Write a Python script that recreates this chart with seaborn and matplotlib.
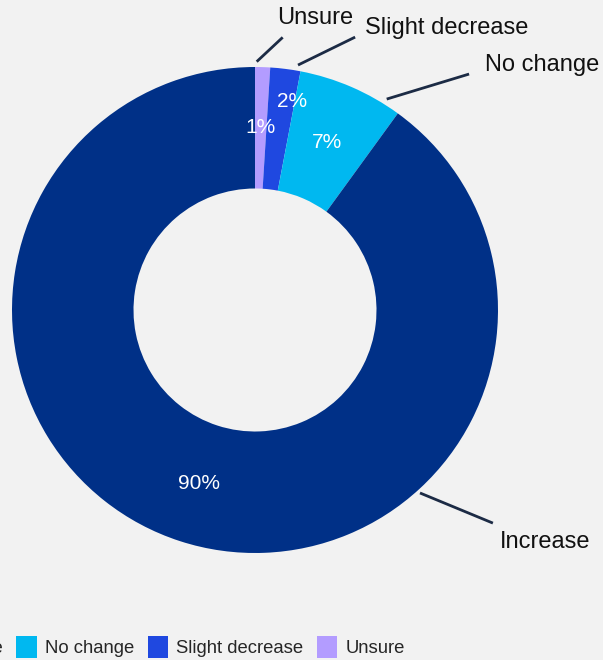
import matplotlib
matplotlib.use("Agg")
import matplotlib.pyplot as plt
import seaborn as sns
import numpy as np
from matplotlib.patches import Patch

# Data (pie order: clockwise from top)
categories = ["Unsure", "Slight decrease", "No change", "Increase"]
values = [1, 2, 7, 90]
colors = ["#b39cff", "#1f48e0", "#00b8f0", "#003087"]
legend_order = ["Increase", "No change", "Slight decrease", "Unsure"]

sns.set_theme(style="white")
plt.rcParams['font.family'] = ['Liberation Sans', 'DejaVu Sans']

BG = "#f2f2f2"
fig = plt.figure(figsize=(6.03, 6.60), dpi=100, facecolor=BG)
W, H = 603, 660
cx, cy, R = 255, 310, 243
ax = fig.add_axes([(cx - R) / W, (H - cy - R) / H, 2 * R / W, 2 * R / H])
ax.set_facecolor(BG)

wedges, texts, autotexts = ax.pie(
    values, colors=colors, startangle=90, counterclock=False,
    radius=1.0, wedgeprops=dict(width=0.5, linewidth=0),
    autopct=lambda p: f"{p:.0f}%", pctdistance=0.75,
    textprops=dict(color="white", fontsize=15))
ax.set_xlim(-1, 1)
ax.set_ylim(-1, 1)
ax.set_aspect("equal")
ax.axis("off")

# Adjust crowded percentage label (Slight decrease)
autotexts[1].set_position((0.152, 0.856))

# Outer labels with leader lines (layout positions in data units)
leader = {
    "Unsure": ((0.007, 1.022), (0.114, 1.122), (0.247, 1.202), "center"),
    "Slight decrease": ((0.177, 1.008), (0.412, 1.123), (0.453, 1.160), "left"),
    "No change": ((0.542, 0.868), (0.881, 0.971), (0.947, 1.008), "left"),
    "Increase": ((0.679, -0.753), (0.979, -0.877), (1.008, -0.955), "left"),
}
for cat in categories:
    p0, p1, pt, ha = leader[cat]
    ax.plot([p0[0], p1[0]], [p0[1], p1[1]], color="#1c2b45", lw=2.0,
            clip_on=False, solid_capstyle="butt")
    ax.text(pt[0], pt[1], cat, ha=ha, va="center", fontsize=17,
            color="#111111", clip_on=False)

handles = [Patch(facecolor=colors[categories.index(c)], edgecolor="none", label=c)
           for c in legend_order]
fig.legend(handles=handles, loc="center left", bbox_to_anchor=(-0.16, 13 / H),
           ncol=4, frameon=False, fontsize=13.3, handlelength=1.1,
           handleheight=1.4, handletextpad=0.43, columnspacing=0.75,
           borderpad=0, borderaxespad=0)

fig.savefig("out.png", dpi=100, facecolor=BG)
